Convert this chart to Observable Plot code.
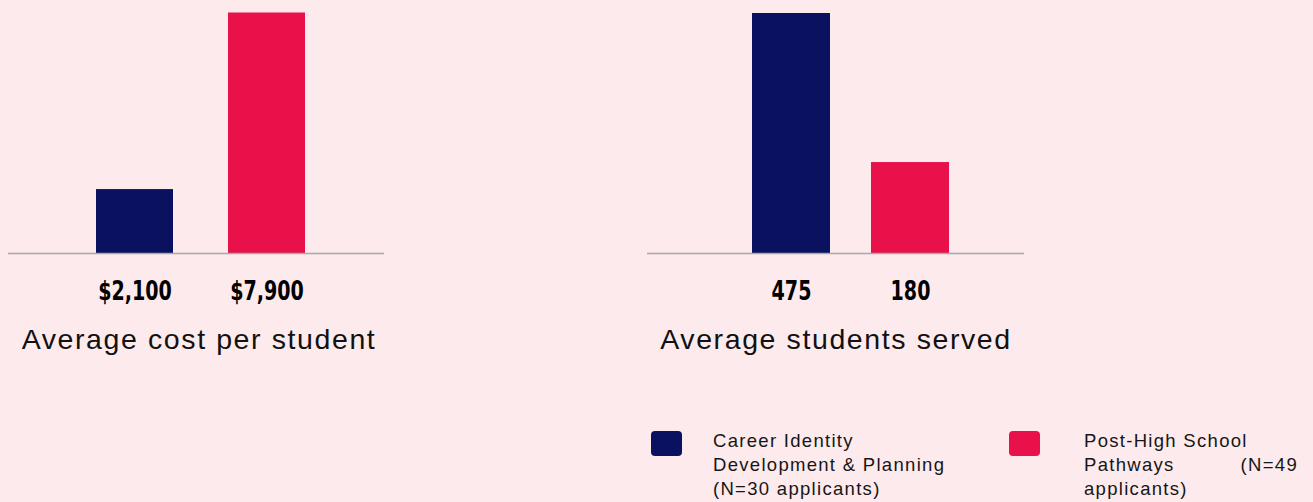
<!DOCTYPE html>
<html><head><meta charset="utf-8">
<script src="https://cdn.jsdelivr.net/npm/d3@7"></script>
<script src="https://cdn.jsdelivr.net/npm/@observablehq/plot@0.6"></script>
<style>
html,body{margin:0;padding:0;background:#fdeaed;}
#wrap{position:relative;width:1313px;height:502px;overflow:hidden;background:#fdeaed;}
.panel{position:absolute;top:0;}
.legend{position:absolute;top:429px;font-family:"Liberation Sans",Arial,Helvetica,sans-serif;font-size:18.5px;line-height:24px;letter-spacing:1.3px;color:#161616;}
.legend .row{display:flex;justify-content:space-between;}
.swatch{position:absolute;top:431px;width:31px;height:25px;border-radius:4px;}
</style></head><body><div id="wrap"></div>
<script>
const groups = ["Career Identity Development & Planning", "Post-High School Pathways"];
const colors = ["#0a1260", "#e8114a"];
const costValues = [2100, 7900];
const costLabels = ["$2,100", "$7,900"];
const servedValues = [475, 180];
const servedLabels = ["475", "180"];
const panelTitles = ["Average cost per student", "Average students served"];
const legendLines = [
  ["Career Identity", "Development & Planning", "(N=30 applicants)"],
  ["Post-High School", ["Pathways", "(N=49"], "applicants)"]
];

const wrap = document.getElementById("wrap");

function panel(values, labels, title, cfg) {
  const data = groups.map((g, i) => ({group: g, value: values[i], label: labels[i]}));
  const svg = Plot.plot({
    width: cfg.width,
    height: 360,
    marginLeft: cfg.marginLeft,
    marginRight: cfg.marginRight,
    marginTop: cfg.marginTop,
    marginBottom: 107,
    style: {background: "transparent", overflow: "visible"},
    x: {domain: groups, range: cfg.xRange, paddingInner: cfg.paddingInner, paddingOuter: 0, axis: null},
    y: {domain: [0, cfg.yMax], axis: null},
    color: {domain: groups, range: colors},
    marks: [
      Plot.barY(data, {x: "group", y: "value", fill: "group"}),
      Plot.ruleY([0], {stroke: "#a9a9a9", strokeWidth: 1.6}),
      Plot.text(data, {x: "group", text: "label", frameAnchor: "bottom", lineAnchor: "bottom", dy: 46,
        fontFamily: "'Liberation Sans Narrow','DejaVu Sans Condensed',sans-serif", fontWeight: "bold", fontSize: 26.5, fill: "#000"}),
      Plot.text([title], {text: d => d, frameAnchor: "bottom", lineAnchor: "bottom", dy: 95, dx: cfg.titleDx,
        fontFamily: "'Liberation Sans',Arial,Helvetica,sans-serif", fontSize: 28.5, fill: "#111"})
    ]
  });
  svg.querySelectorAll('g[aria-label="text"]').forEach(g => {
    if (g.getAttribute("font-size") === "28.5") g.setAttribute("letter-spacing", "1.6");
    if (g.getAttribute("font-size") === "26.5") {
      g.querySelectorAll("text").forEach(t => {
        const tr = t.getAttribute("transform") || "";
        t.setAttribute("transform", tr + " scale(0.8,1)");
      });
    }
  });
  const div = document.createElement("div");
  div.className = "panel";
  div.style.left = cfg.left + "px";
  div.appendChild(svg);
  wrap.appendChild(div);
}

panel(costValues, costLabels, panelTitles[0],
  {left: 0, width: 640, marginLeft: 8, marginRight: 256, marginTop: 12.5, yMax: 7900,
   xRange: [95, 306], paddingInner: 0.4135, titleDx: 2.5});
panel(servedValues, servedLabels, panelTitles[1],
  {left: 640, width: 673, marginLeft: 7, marginRight: 289, marginTop: 13, yMax: 475,
   xRange: [111, 309], paddingInner: 0.345, titleDx: 0});

// Legend
const swLeft = [651, 1009];
const txLeft = [713, 1084];
legendLines.forEach((lines, i) => {
  const sw = document.createElement("div");
  sw.className = "swatch";
  sw.style.left = swLeft[i] + "px";
  sw.style.background = colors[i];
  wrap.appendChild(sw);
  const tx = document.createElement("div");
  tx.className = "legend";
  tx.style.left = txLeft[i] + "px";
  lines.forEach(line => {
    const r = document.createElement("div");
    if (Array.isArray(line)) {
      r.className = "row";
      r.style.width = "214px";
      line.forEach(part => { const s = document.createElement("span"); s.textContent = part; r.appendChild(s); });
    } else {
      r.textContent = line;
    }
    tx.appendChild(r);
  });
  wrap.appendChild(tx);
});
</script>
</body></html>
